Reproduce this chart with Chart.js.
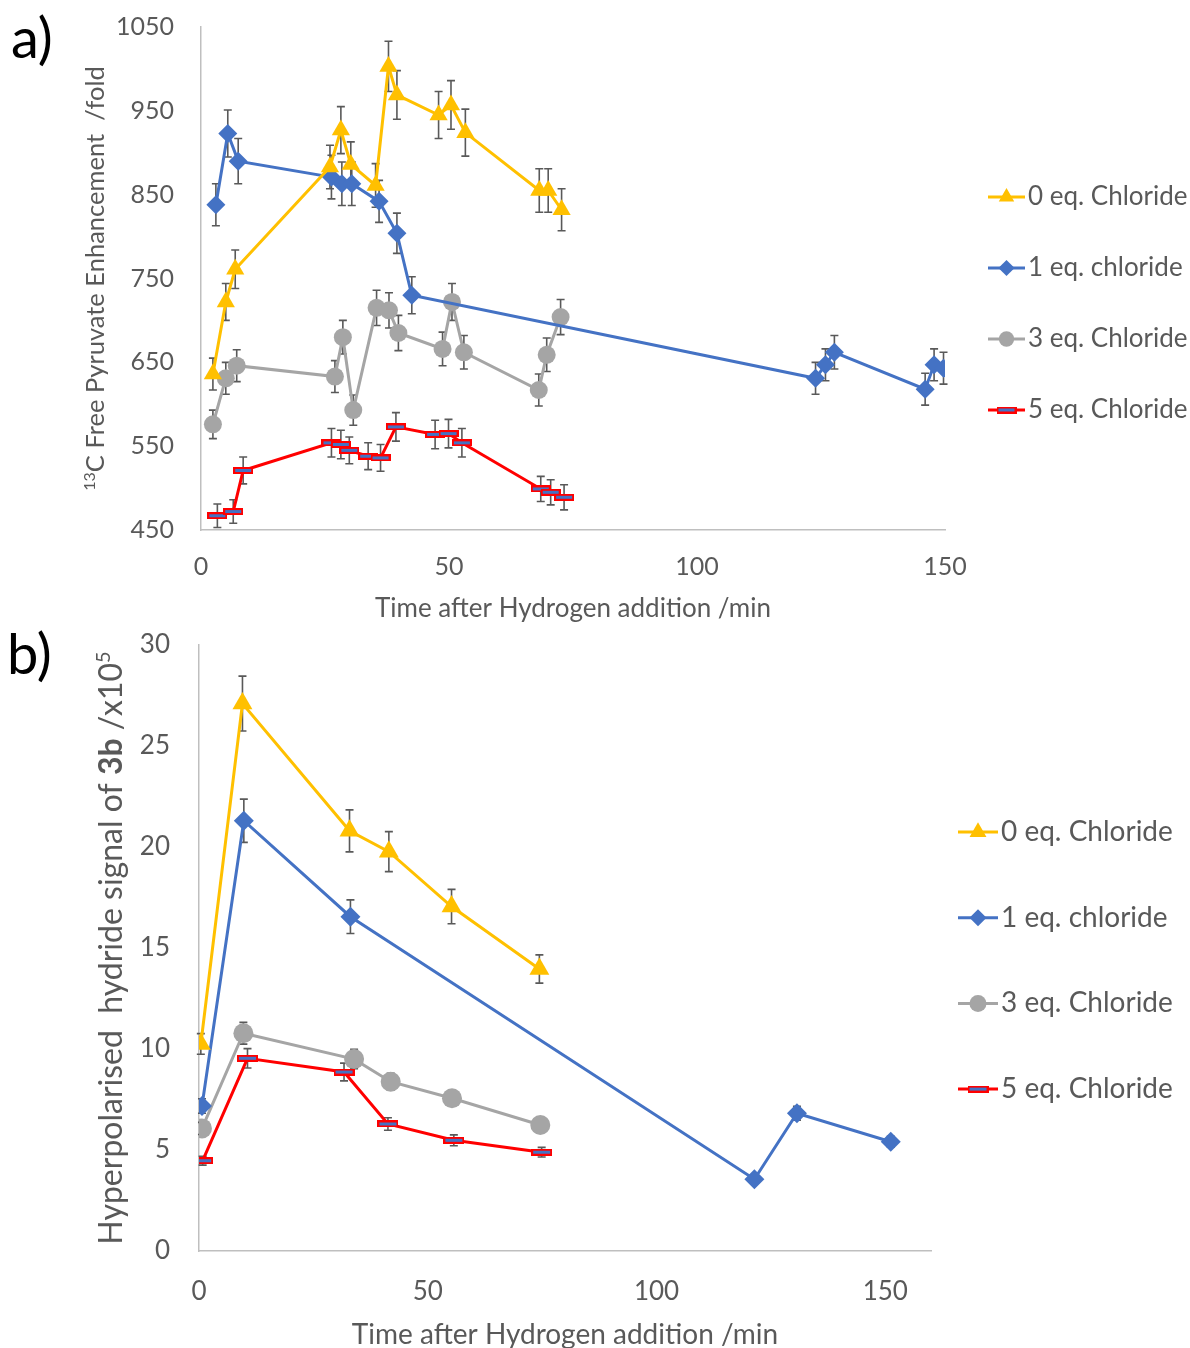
<!DOCTYPE html>
<html>
<head>
<meta charset="utf-8">
<script src="https://cdn.jsdelivr.net/npm/chart.js@4.4.0/dist/chart.umd.min.js"></script>
<style>
  body { margin: 0; background: #fff; width: 1190px; height: 1348px; position: relative; overflow: hidden; font-family: Lato, sans-serif; }
  #wrapA { position: absolute; left: 0; top: 0; width: 1190px; height: 625px; }
  #wrapB { position: absolute; left: 0; top: 625px; width: 1190px; height: 723px; }
  .tag { position: absolute; font-size: 56px; line-height: 1; color: #000; }
</style>
</head>
<body>
<div id="wrapA"><canvas id="chartA"></canvas></div>
<div id="wrapB"><canvas id="chartB"></canvas></div>
<div class="tag" style="left:11px;top:9px">a)</div>
<div class="tag" style="left:7px;top:625px">b)</div>
<script>
// series
const seriesNames = ['0 eq. Chloride', '1 eq. chloride', '3 eq. Chloride', '5 eq. Chloride'];

// panel a: 13C enhancement vs time
const aTime0 = [2.4, 5.0, 6.9, 26.0, 28.2, 30.2, 35.2, 37.8, 39.5, 47.9, 50.4, 53.3, 68.2, 70.0, 72.7];
const aEnh0  = [636, 722, 761, 883, 927, 886, 861, 1003, 969, 945, 957, 924, 855, 855, 832];
const aErr0  = [19, 22, 23, 26, 28, 27, 26, 30, 29, 28, 29, 28, 26, 26, 25];

const aTime1 = [3.0, 5.4, 7.5, 26.3, 28.4, 30.4, 35.9, 39.5, 42.5, 123.9, 125.9, 127.7, 146.0, 147.8, 149.7];
const aEnh1  = [838, 923, 890, 871, 863, 863, 842, 804, 730, 631, 647, 662, 618, 647, 643];
const aErr1  = [25, 28, 27, 26, 26, 26, 25, 24, 22, 19, 19, 20, 19, 19, 19];

const aTime3 = [2.4, 5.0, 7.2, 27.0, 28.6, 30.7, 35.4, 37.9, 39.8, 48.7, 50.6, 53.0, 68.1, 69.7, 72.5];
const aEnh3  = [576, 631, 646, 633, 680, 593, 715, 712, 685, 666, 722, 662, 617, 659, 704];
const aErr3  = [17, 19, 19, 19, 20, 18, 21, 21, 21, 20, 22, 20, 19, 20, 21];

const aTime5 = [3.3, 6.5, 8.5, 26.3, 28.2, 29.9, 33.7, 36.2, 39.3, 47.2, 49.9, 52.6, 68.5, 70.5, 73.2];
const aEnh5  = [467, 472, 521, 554, 552, 545, 538, 536, 573, 564, 565, 554, 499, 495, 489];
const aErr5  = [14, 14, 16, 17, 17, 16, 16, 16, 17, 17, 17, 17, 15, 15, 15];

const aTicksX = [0, 50, 100, 150];
const aTicksY = [450, 550, 650, 750, 850, 950, 1050];

// panel b: hydride signal vs time
const bTime0 = [0.4, 9.5, 32.9, 41.5, 55.2, 74.4];
const bSig0  = [10.25, 27.1, 20.8, 19.77, 17.05, 13.96];
const bErr0  = [0.51, 1.36, 1.04, 0.99, 0.85, 0.70];

const bTime1 = [0.65, 9.8, 33.1, 121.4, 130.7, 151.2];
const bSig1  = [7.18, 21.3, 16.55, 3.55, 6.82, 5.41];
const bErr1  = [0.36, 1.07, 0.83, 0.18, 0.34, 0.27];

const bTime3 = [0.65, 9.7, 33.9, 41.9, 55.3, 74.6];
const bSig3  = [6.07, 10.78, 9.5, 8.38, 7.56, 6.24];
const bErr3  = [0.30, 0.54, 0.48, 0.42, 0.38, 0.31];

const bTime5 = [0.8, 10.6, 31.7, 41.3, 55.7, 74.9];
const bSig5  = [4.47, 9.54, 8.86, 6.29, 5.48, 4.89];
const bErr5  = [0.22, 0.48, 0.44, 0.31, 0.27, 0.24];

const bTicksX = [0, 50, 100, 150];
const bTicksY = [0, 5, 10, 15, 20, 25, 30];

const lineColors = ['#FFC000', '#4472C4', '#A5A5A5', '#FF0000'];
const markerFills = ['#FFC000', '#4472C4', '#A5A5A5', '#4472C4'];
const textGrey = '#595959';
const axisGrey = '#BFBFBF';

// red "dash" marker: blue bar outlined in red
function dashMarker(w, h) {
  const c = document.createElement('canvas');
  c.width = w; c.height = h;
  const g = c.getContext('2d');
  g.fillStyle = '#FF0000';
  g.fillRect(0, 0, w, h);
  g.fillStyle = '#4472C4';
  g.fillRect(2, 2, w - 4, h - 4);
  return c;
}

function makeSet(i, xs, ys, errs, radii, dash) {
  const styles = ['triangle', 'rectRot', 'circle', dash];
  return {
    label: seriesNames[i],
    data: xs.map((x, k) => ({ x: x, y: ys[k] })),
    errors: errs,
    borderColor: lineColors[i],
    backgroundColor: markerFills[i],
    borderWidth: 3,
    pointStyle: styles[i],
    pointRadius: radii[i],
    pointBorderWidth: 0,
    pointHoverRadius: radii[i],
    tension: 0
  };
}

const errorBars = {
  id: 'errorBars',
  beforeDatasetsDraw(chart) {
    const ctx = chart.ctx, xs = chart.scales.x, ys = chart.scales.y;
    ctx.save();
    ctx.strokeStyle = textGrey;
    ctx.lineWidth = 1.6;
    chart.data.datasets.forEach(ds => {
      ds.data.forEach((p, k) => {
        const e = ds.errors[k];
        const px = xs.getPixelForValue(p.x);
        const top = ys.getPixelForValue(p.y + e), bot = ys.getPixelForValue(p.y - e);
        ctx.beginPath();
        ctx.moveTo(px, top); ctx.lineTo(px, bot);
        ctx.moveTo(px - 4, top); ctx.lineTo(px + 4, top);
        ctx.moveTo(px - 4, bot); ctx.lineTo(px + 4, bot);
        ctx.stroke();
      });
    });
    ctx.restore();
  }
};

// y title with superscript / bold runs
const richTitle = {
  id: 'richTitle',
  afterDraw(chart, args, opts) {
    const ctx = chart.ctx, area = chart.chartArea;
    const cy = (area.top + area.bottom) / 2;
    const fontFor = s => (s.bold ? 'bold ' : '') + (s.sup ? opts.supSize : opts.size) + 'px Lato';
    ctx.save();
    ctx.translate(opts.x, cy);
    ctx.rotate(-Math.PI / 2);
    ctx.fillStyle = textGrey;
    ctx.textBaseline = 'alphabetic';
    let total = 0;
    opts.parts.forEach(s => { ctx.font = fontFor(s); s.w = ctx.measureText(s.t).width; total += s.w; });
    let cx = -total / 2;
    opts.parts.forEach(s => {
      ctx.font = fontFor(s);
      ctx.fillText(s.t, cx, s.sup ? -opts.supRise : 0);
      cx += s.w;
    });
    ctx.restore();
  }
};

// legend on the right: line sample + marker + label
const sideLegend = {
  id: 'sideLegend',
  afterDraw(chart, args, opts) {
    const ctx = chart.ctx, area = chart.chartArea;
    chart.data.datasets.forEach((ds, i) => {
      const y = area.top + opts.first + i * opts.step;
      const x0 = area.right + opts.offset;
      ctx.save();
      ctx.strokeStyle = ds.borderColor;
      ctx.lineWidth = ds.borderWidth;
      ctx.beginPath(); ctx.moveTo(x0, y); ctx.lineTo(x0 + opts.lineLen, y); ctx.stroke();
      ctx.fillStyle = ds.backgroundColor;
      Chart.helpers.drawPoint(ctx, { pointStyle: ds.pointStyle, radius: ds.pointRadius * 0.85, borderWidth: 0, rotation: 0 }, x0 + opts.lineLen / 2, y);
      ctx.fillStyle = textGrey;
      ctx.font = opts.size + 'px Lato';
      ctx.textBaseline = 'middle';
      ctx.fillText(ds.label, x0 + opts.lineLen + 3, y);
      ctx.restore();
    });
  }
};

function axes(xMin, xMax, xTicks, yMin, yMax, yTicks, yWidth, xHeight, tickSize, xPad, yPad, titleSize, titleBottom) {
  return {
    x: {
      type: 'linear', min: xMin, max: xMax,
      grid: { display: false, drawTicks: false },
      border: { display: true, color: axisGrey, width: 1.5 },
      afterBuildTicks: s => { s.ticks = xTicks.map(v => ({ value: v })); },
      afterFit: s => { s.height = xHeight; },
      ticks: { color: textGrey, font: { family: 'Lato', size: tickSize }, padding: xPad, maxRotation: 0, callback: v => String(v) },
      title: { display: true, text: 'Time after Hydrogen addition /min', color: textGrey, font: { family: 'Lato', size: titleSize }, padding: { top: 0, bottom: titleBottom } }
    },
    y: {
      type: 'linear', min: yMin, max: yMax,
      grid: { display: false, drawTicks: false },
      border: { display: true, color: axisGrey, width: 1.5 },
      afterBuildTicks: s => { s.ticks = yTicks.map(v => ({ value: v })); },
      afterFit: s => { s.width = yWidth; s.paddingTop = 0; s.paddingBottom = 0; },
      ticks: { color: textGrey, font: { family: 'Lato', size: tickSize }, padding: yPad, callback: v => String(v) }
    }
  };
}

const redDashA = dashMarker(20, 7);
const radiiA = [10.5, 9.5, 9, 10];
new Chart(document.getElementById('chartA'), {
  type: 'line',
  data: {
    datasets: [
      makeSet(0, aTime0, aEnh0, aErr0, radiiA, redDashA),
      makeSet(1, aTime1, aEnh1, aErr1, radiiA, redDashA),
      makeSet(2, aTime3, aEnh3, aErr3, radiiA, redDashA),
      makeSet(3, aTime5, aEnh5, aErr5, radiiA, redDashA)
    ]
  },
  options: {
    responsive: true, maintainAspectRatio: false, animation: false, events: [],
    layout: { padding: { top: 27, right: 245, left: 0, bottom: 0 } },
    scales: axes(0, 150, aTicksX, 450, 1050, aTicksY, 201, 95, 25, 22, 27, 26, 1),
    plugins: {
      legend: { display: false }, tooltip: { enabled: false },
      richTitle: { x: 104, size: 25.5, supSize: 16, supRise: 9, parts: [{ t: '13', sup: true }, { t: 'C Free Pyruvate Enhancement  /fold' }] },
      sideLegend: { first: 170, step: 71, offset: 43, lineLen: 37, size: 26 }
    }
  },
  plugins: [errorBars, richTitle, sideLegend]
});

const redDashB = dashMarker(21, 7);
const radiiB = [11.5, 10, 10, 10];
new Chart(document.getElementById('chartB'), {
  type: 'line',
  data: {
    datasets: [
      makeSet(0, bTime0, bSig0, bErr0, radiiB, redDashB),
      makeSet(1, bTime1, bSig1, bErr1, radiiB, redDashB),
      makeSet(2, bTime3, bSig3, bErr3, radiiB, redDashB),
      makeSet(3, bTime5, bSig5, bErr5, radiiB, redDashB)
    ]
  },
  options: {
    responsive: true, maintainAspectRatio: false, animation: false, events: [],
    layout: { padding: { top: 20, right: 259, left: 0, bottom: 0 } },
    scales: axes(0, 160, bTicksX, 0, 30, bTicksY, 199, 97, 26, 25, 29, 28, -4),
    plugins: {
      legend: { display: false }, tooltip: { enabled: false },
      richTitle: { x: 122, size: 32, supSize: 20, supRise: 12, parts: [{ t: 'Hyperpolarised  hydride signal of ' }, { t: '3b', bold: true }, { t: ' /x10' }, { t: '5', sup: true }] },
      sideLegend: { first: 187, step: 85.7, offset: 27, lineLen: 40, size: 28 }
    }
  },
  plugins: [errorBars, richTitle, sideLegend]
});
</script>
</body>
</html>
